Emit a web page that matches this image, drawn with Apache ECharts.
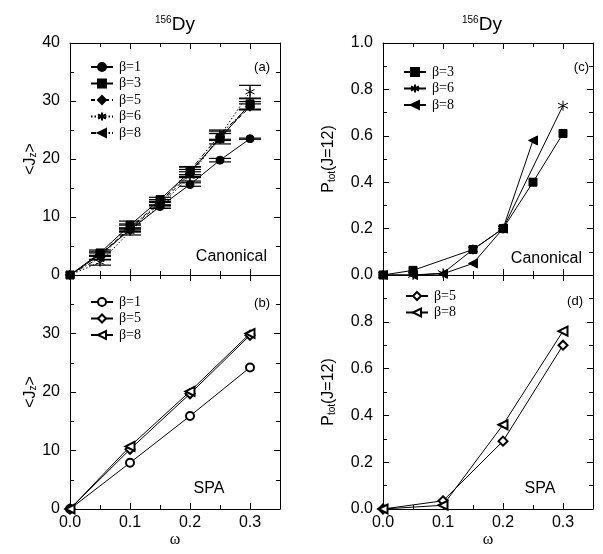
<!DOCTYPE html>
<html><head><meta charset="utf-8">
<script src="https://cdn.jsdelivr.net/npm/echarts@6/dist/echarts.min.js"></script>
<style>html,body{margin:0;padding:0;background:#fff}#c{width:603px;height:554px}</style>
</head><body><div id="c"></div>
<script>
// ---------- data ----------
const omegaA = [0, 0.05, 0.1, 0.15, 0.2, 0.25, 0.3];
const jzCanB1 = [0, 3.5, 7.8, 11.8, 15.6, 19.8, 23.5];
const jzCanB3 = [0, 3.8, 8.6, 13.0, 17.8, 23.5, 29.5];
const jzCanB5 = [0, 3.6, 8.0, 12.3, 17.5, 23.8, 29.0];
const jzCanB6 = [0, 2.2, 7.5, 12.0, 17.0, 24.0, 31.6];
const jzCanB8 = [0, 3.0, 8.2, 12.5, 18.0, 24.2, 29.2];
const errCanB1 = [0, 0.3, 0.3, 0.3, 0.3, 0.3, 0.1];
const errCanB3 = [0, 0.5, 0.7, 0.4, 0.8, 0.9, 0.9];
const errCanB5 = [0, 0.4, 0.6, 0.4, 0.7, 0.6, 0.5];
const errCanB6 = [0, 0.5, 0.6, 0.5, 0.8, 0.8, 1.1];
const errCanB8 = [0, 0.4, 0.6, 0.5, 0.7, 0.8, 0.7];

const omegaB = [0, 0.1, 0.2, 0.3];
const jzSpaB1 = [0, 7.9, 15.9, 24.2];
const jzSpaB5 = [0, 10.2, 19.7, 29.7];
const jzSpaB8 = [0, 10.7, 20.1, 30.0];

const omegaC3 = [0, 0.05, 0.15, 0.2, 0.25, 0.3];
const pCanB3 = [0, 0.02, 0.11, 0.2, 0.4, 0.61];
const omegaC6 = [0, 0.05, 0.1, 0.15, 0.2, 0.3];
const pCanB6 = [0, 0.0, 0.008, 0.11, 0.2, 0.73];
const omegaC8 = [0, 0.05, 0.1, 0.15, 0.2, 0.25];
const pCanB8 = [0, 0.0, 0.005, 0.05, 0.2, 0.58];

const omegaD = [0, 0.1, 0.2, 0.3];
const pSpaB5 = [0, 0.035, 0.29, 0.70];
const pSpaB8 = [0, 0.016, 0.36, 0.76];

// ---------- helpers ----------
const FONT = "'Liberation Sans', Arial, sans-serif";
const SERIF = "'Liberation Serif', 'Times New Roman', serif";
const BLK = '#000';
const zip = (xs, ys) => xs.map((x, i) => [x, ys[i]]);
const zip3 = (xs, ys, es) => xs.map((x, i) => [x, ys[i], es[i]]);

const grids = [
  {left: 70, top: 43, width: 210, height: 232},
  {left: 70, top: 275, width: 210, height: 234},
  {left: 383, top: 43, width: 210, height: 232},
  {left: 383, top: 275, width: 210, height: 234}
];

function xAx(g, pos, labels, name) {
  return {
    type: 'value', gridIndex: g, position: pos, min: 0, max: 0.35, interval: 0.1,
    axisLine: {show: true, onZero: false, lineStyle: {color: BLK, width: 1}},
    axisTick: {show: true, inside: true, length: 6, lineStyle: {color: BLK}},
    minorTick: {show: true, splitNumber: 2, length: 4, lineStyle: {color: BLK}},
    splitLine: {show: false},
    axisLabel: {show: labels, color: BLK, fontFamily: FONT, fontSize: 16, margin: 6,
      formatter: v => (Math.abs(v * 10 - Math.round(v * 10)) > 1e-6 ? '' : v.toFixed(1))},
    name: name || '', nameLocation: 'middle', nameGap: 22,
    nameTextStyle: {color: BLK, fontFamily: SERIF, fontSize: 16}
  };
}
function yAx(g, pos, labels, max, interval, hideMax, dec, name, gap) {
  return {
    type: 'value', gridIndex: g, position: pos, min: 0, max: max, interval: interval,
    axisLine: {show: true, onZero: false, lineStyle: {color: BLK, width: 1}},
    axisTick: {show: true, inside: true, length: 6, lineStyle: {color: BLK}},
    minorTick: {show: true, splitNumber: 2, length: 4, lineStyle: {color: BLK}},
    splitLine: {show: false},
    axisLabel: {show: labels, color: BLK, fontFamily: FONT, fontSize: 16, margin: 10,
      showMaxLabel: !hideMax,
      formatter: v => v.toFixed(dec)},
    name: name || '', nameLocation: 'middle', nameRotate: 90, nameGap: gap || 30,
    nameTextStyle: {color: BLK, fontFamily: FONT, fontSize: 16,
      rich: {s: {fontSize: 10, fontFamily: FONT, color: BLK, verticalAlign: 'bottom', padding: [6, 0, 0, 0]},
             n: {fontSize: 16, fontFamily: FONT, color: BLK}}}
  };
}

const JZ = '{n|<J}{s|z}{n|>}';
const PT = '{n|P}{s|tot}{n|(J=12)}';

const xAxes = [
  xAx(0, 'bottom', false), xAx(0, 'top', false),
  xAx(1, 'bottom', true, 'ω'), xAx(1, 'top', false),
  xAx(2, 'bottom', false), xAx(2, 'top', false),
  xAx(3, 'bottom', true, 'ω'), xAx(3, 'top', false)
];
const yAxes = [
  yAx(0, 'left', true, 40, 10, false, 0, JZ, 26), yAx(0, 'right', false, 40, 10, false, 0),
  yAx(1, 'left', true, 40, 10, true, 0, JZ, 26), yAx(1, 'right', false, 40, 10, true, 0),
  yAx(2, 'left', true, 1, 0.2, false, 1, PT, 46), yAx(2, 'right', false, 1, 0.2, false, 1),
  yAx(3, 'left', true, 1, 0.2, true, 1, PT, 46), yAx(3, 'right', false, 1, 0.2, true, 1)
];

function lineS(name, g, data, symbol, size, dash, opts) {
  return Object.assign({
    name: name, type: 'line', xAxisIndex: 2 * g, yAxisIndex: 2 * g, data: data,
    symbol: symbol, symbolSize: size, showAllSymbol: true, clip: false,
    lineStyle: {color: BLK, width: 1, type: dash || 'solid'},
    itemStyle: {color: BLK, borderColor: BLK, borderWidth: 1},
    emphasis: {disabled: true}, animation: false
  }, opts || {});
}
function errS(g, data) {
  return {
    type: 'custom', xAxisIndex: 2 * g, yAxisIndex: 2 * g, data: data, animation: false, silent: true,
    renderItem: function (params, api) {
      const x = api.value(0), y = api.value(1), e = api.value(2);
      if (!e) return null;
      const t = api.coord([x, y + e]), b = api.coord([x, y - e]);
      const hw = 11;
      const st = {stroke: BLK, lineWidth: 1.2};
      return {type: 'group', children: [
        {type: 'line', shape: {x1: t[0], y1: t[1], x2: b[0], y2: b[1]}, style: st},
        {type: 'line', shape: {x1: t[0] - hw, y1: t[1], x2: t[0] + hw, y2: t[1]}, style: st},
        {type: 'line', shape: {x1: b[0] - hw, y1: b[1], x2: b[0] + hw, y2: b[1]}, style: st}
      ]};
    }
  };
}

const AST = 'path://M0,-10L0,10M-8.66,-5L8.66,5M-8.66,5L8.66,-5';
const astStyle = {itemStyle: {color: 'none', borderColor: BLK, borderWidth: 1}};

const series = [
  errS(0, zip3(omegaA, jzCanB1, errCanB1)),
  errS(0, zip3(omegaA, jzCanB3, errCanB3)),
  errS(0, zip3(omegaA, jzCanB5, errCanB5)),
  errS(0, zip3(omegaA, jzCanB6, errCanB6)),
  errS(0, zip3(omegaA, jzCanB8, errCanB8)),
  lineS('a:β=1', 0, zip(omegaA, jzCanB1), 'circle', 8),
  lineS('a:β=3', 0, zip(omegaA, jzCanB3), 'rect', 8),
  lineS('a:β=5', 0, zip(omegaA, jzCanB5), 'diamond', 9, [4, 3]),
  lineS('a:β=6', 0, zip(omegaA, jzCanB6), AST, 9, [1.5, 2], astStyle),
  lineS('a:β=8', 0, zip(omegaA, jzCanB8), 'triangle', 8, [5, 2, 1.5, 2], {symbolRotate: 90}),

  lineS('b:β=1', 1, zip(omegaB, jzSpaB1), 'emptyCircle', 8),
  lineS('b:β=5', 1, zip(omegaB, jzSpaB5), 'emptyDiamond', 9),
  lineS('b:β=8', 1, zip(omegaB, jzSpaB8), 'emptyTriangle', 9, null, {symbolRotate: 90}),

  lineS('c:β=6', 2, zip(omegaC6, pCanB6), AST, 10, null, astStyle),
  lineS('c:β=8', 2, zip(omegaC8, pCanB8), 'triangle', 9, null, {symbolRotate: 90}),
  lineS('c:β=3', 2, zip(omegaC3, pCanB3), 'rect', 8),

  lineS('d:β=5', 3, zip(omegaD, pSpaB5), 'emptyDiamond', 9),
  lineS('d:β=8', 3, zip(omegaD, pSpaB8), 'emptyTriangle', 9, null, {symbolRotate: 90})
];

function legend(names, left, top) {
  return {
    data: names, left: left, top: top, orient: 'vertical', itemWidth: 22, itemHeight: 10,
    itemGap: 2.5, selectedMode: false, padding: 0,
    formatter: n => n.slice(2),
    textStyle: {color: BLK, fontFamily: SERIF, fontSize: 14, padding: [0, 0, 0, 1]}
  };
}

function txt(x, y, s, size, align) {
  return {type: 'text', x: x, y: y, style: {text: s, fill: BLK, font: size + 'px ' + FONT,
    textAlign: align || 'left', textVerticalAlign: 'middle'}};
}

const titleRich = {
  s: {fontSize: 10, fontFamily: FONT, fontWeight: 'normal', color: BLK, verticalAlign: 'top', lineHeight: 20},
  m: {fontSize: 19, fontFamily: FONT, fontWeight: 'normal', color: BLK, lineHeight: 20}
};

const option = {
  backgroundColor: '#fff',
  animation: false,
  title: [
    {text: '{s|156}{m|Dy}', left: 150, top: 10, textStyle: {fontWeight: 'normal', rich: titleRich}},
    {text: '{s|156}{m|Dy}', left: 457, top: 10, textStyle: {fontWeight: 'normal', rich: titleRich}}
  ],
  grid: grids,
  xAxis: xAxes,
  yAxis: yAxes,
  legend: [
    legend(['a:β=1', 'a:β=3', 'a:β=5', 'a:β=6', 'a:β=8'], 90, 60),
    legend(['b:β=1', 'b:β=5', 'b:β=8'], 90, 295),
    legend(['c:β=3', 'c:β=6', 'c:β=8'], 403, 65),
    legend(['d:β=5', 'd:β=8'], 405, 289)
  ],
  graphic: [
    txt(270, 67, '(a)', 13, 'right'),
    txt(270, 303, '(b)', 13, 'right'),
    txt(589, 67, '(c)', 13, 'right'),
    txt(583, 301, '(d)', 13, 'right'),
    txt(267, 257, 'Canonical', 16, 'right'),
    txt(582, 259, 'Canonical', 16, 'right'),
    txt(209, 489, 'SPA', 16, 'center'),
    txt(540, 489, 'SPA', 16, 'center')
  ],
  series: series
};

const chart = echarts.init(document.getElementById('c'), null, {renderer: 'canvas'});
chart.setOption(option);
</script>
</body></html>
